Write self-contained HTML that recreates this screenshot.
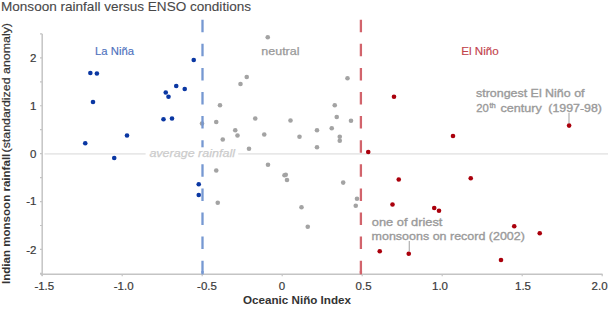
<!DOCTYPE html>
<html><head><meta charset="utf-8"><style>
html,body{margin:0;padding:0;background:#fff;width:610px;height:316px;overflow:hidden}
svg{display:block}
text{font-family:"Liberation Sans",sans-serif}
</style></head><body>
<svg width="610" height="316" viewBox="0 0 610 316">
<line x1="44.5" y1="153.9" x2="608" y2="153.9" stroke="#e8e8e8" stroke-width="1.7"/>
<line x1="42.2" y1="33.8" x2="42.2" y2="276" stroke="#c4c4c4" stroke-width="1.5"/>
<line x1="40.3" y1="274.3" x2="602.5" y2="274.3" stroke="#c4c4c4" stroke-width="1.5"/>
<line x1="40" y1="33.90" x2="42" y2="33.90" stroke="#c4c4c4" stroke-width="1.2"/>
<line x1="40" y1="57.85" x2="42" y2="57.85" stroke="#c4c4c4" stroke-width="1.2"/>
<line x1="40" y1="81.80" x2="42" y2="81.80" stroke="#c4c4c4" stroke-width="1.2"/>
<line x1="40" y1="105.75" x2="42" y2="105.75" stroke="#c4c4c4" stroke-width="1.2"/>
<line x1="40" y1="129.70" x2="42" y2="129.70" stroke="#c4c4c4" stroke-width="1.2"/>
<line x1="40" y1="153.65" x2="42" y2="153.65" stroke="#c4c4c4" stroke-width="1.2"/>
<line x1="40" y1="177.60" x2="42" y2="177.60" stroke="#c4c4c4" stroke-width="1.2"/>
<line x1="40" y1="201.55" x2="42" y2="201.55" stroke="#c4c4c4" stroke-width="1.2"/>
<line x1="40" y1="225.50" x2="42" y2="225.50" stroke="#c4c4c4" stroke-width="1.2"/>
<line x1="40" y1="249.45" x2="42" y2="249.45" stroke="#c4c4c4" stroke-width="1.2"/>
<line x1="40" y1="273.40" x2="42" y2="273.40" stroke="#c4c4c4" stroke-width="1.2"/>
<line x1="42.20" y1="274" x2="42.20" y2="276.2" stroke="#c4c4c4" stroke-width="1.2"/>
<line x1="122.20" y1="274" x2="122.20" y2="276.2" stroke="#c4c4c4" stroke-width="1.2"/>
<line x1="202.20" y1="274" x2="202.20" y2="276.2" stroke="#c4c4c4" stroke-width="1.2"/>
<line x1="282.20" y1="274" x2="282.20" y2="276.2" stroke="#c4c4c4" stroke-width="1.2"/>
<line x1="362.20" y1="274" x2="362.20" y2="276.2" stroke="#c4c4c4" stroke-width="1.2"/>
<line x1="442.20" y1="274" x2="442.20" y2="276.2" stroke="#c4c4c4" stroke-width="1.2"/>
<line x1="522.20" y1="274" x2="522.20" y2="276.2" stroke="#c4c4c4" stroke-width="1.2"/>
<line x1="602.20" y1="274" x2="602.20" y2="276.2" stroke="#c4c4c4" stroke-width="1.2"/>
<line x1="202.5" y1="271" x2="202.5" y2="274.4" stroke="#7698d2" stroke-width="2.3"/>
<line x1="360.9" y1="271" x2="360.9" y2="274.4" stroke="#d2646c" stroke-width="2.3"/>
<line x1="569" y1="112.8" x2="569" y2="123.5" stroke="#b0b0b0" stroke-width="1.2"/>
<line x1="409.3" y1="241" x2="409.3" y2="251.5" stroke="#b0b0b0" stroke-width="1.2"/>
<circle cx="267.75" cy="37.25" r="2.3" fill="#a3a3a3"/>
<circle cx="246.75" cy="77" r="2.3" fill="#a3a3a3"/>
<circle cx="240.5" cy="84" r="2.3" fill="#a3a3a3"/>
<circle cx="220" cy="105.25" r="2.3" fill="#a3a3a3"/>
<circle cx="334.75" cy="105.25" r="2.3" fill="#a3a3a3"/>
<circle cx="202" cy="123.5" r="2.3" fill="#a3a3a3"/>
<circle cx="216.25" cy="122" r="2.3" fill="#a3a3a3"/>
<circle cx="255.25" cy="118.5" r="2.3" fill="#a3a3a3"/>
<circle cx="290.5" cy="120.5" r="2.3" fill="#a3a3a3"/>
<circle cx="336.75" cy="117" r="2.3" fill="#a3a3a3"/>
<circle cx="235.25" cy="130.25" r="2.3" fill="#a3a3a3"/>
<circle cx="237.5" cy="135.5" r="2.3" fill="#a3a3a3"/>
<circle cx="222.75" cy="139.5" r="2.3" fill="#a3a3a3"/>
<circle cx="264.25" cy="134.5" r="2.3" fill="#a3a3a3"/>
<circle cx="299.5" cy="136.75" r="2.3" fill="#a3a3a3"/>
<circle cx="317" cy="130.25" r="2.3" fill="#a3a3a3"/>
<circle cx="331.75" cy="128.25" r="2.3" fill="#a3a3a3"/>
<circle cx="339.75" cy="136.75" r="2.3" fill="#a3a3a3"/>
<circle cx="339.75" cy="140.75" r="2.3" fill="#a3a3a3"/>
<circle cx="249" cy="148.75" r="2.3" fill="#a3a3a3"/>
<circle cx="317" cy="147.25" r="2.3" fill="#a3a3a3"/>
<circle cx="268" cy="164.75" r="2.3" fill="#a3a3a3"/>
<circle cx="216.25" cy="170.5" r="2.3" fill="#a3a3a3"/>
<circle cx="284.5" cy="175.25" r="2.3" fill="#a3a3a3"/>
<circle cx="285.75" cy="174.75" r="2.3" fill="#a3a3a3"/>
<circle cx="287" cy="180" r="2.3" fill="#a3a3a3"/>
<circle cx="343.2" cy="182.6" r="2.3" fill="#a3a3a3"/>
<circle cx="217.75" cy="202.75" r="2.3" fill="#a3a3a3"/>
<circle cx="301.5" cy="207.25" r="2.3" fill="#a3a3a3"/>
<circle cx="307.75" cy="226.75" r="2.3" fill="#a3a3a3"/>
<circle cx="347.5" cy="78.25" r="2.3" fill="#a3a3a3"/>
<circle cx="351" cy="120.75" r="2.3" fill="#a3a3a3"/>
<circle cx="357" cy="198.75" r="2.3" fill="#a3a3a3"/>
<circle cx="355.75" cy="205.75" r="2.3" fill="#a3a3a3"/>
<circle cx="90.35" cy="73" r="2.3" fill="#0a37a3"/>
<circle cx="96.9" cy="73.55" r="2.3" fill="#0a37a3"/>
<circle cx="93" cy="102" r="2.3" fill="#0a37a3"/>
<circle cx="165.75" cy="92.5" r="2.3" fill="#0a37a3"/>
<circle cx="168.5" cy="96.75" r="2.3" fill="#0a37a3"/>
<circle cx="176.25" cy="86" r="2.3" fill="#0a37a3"/>
<circle cx="184.75" cy="89" r="2.3" fill="#0a37a3"/>
<circle cx="85.25" cy="143.25" r="2.3" fill="#0a37a3"/>
<circle cx="114.25" cy="158" r="2.3" fill="#0a37a3"/>
<circle cx="127" cy="135.5" r="2.3" fill="#0a37a3"/>
<circle cx="163.5" cy="119.25" r="2.3" fill="#0a37a3"/>
<circle cx="172" cy="118.5" r="2.3" fill="#0a37a3"/>
<circle cx="193.75" cy="60" r="2.3" fill="#0a37a3"/>
<circle cx="198.75" cy="184.25" r="2.3" fill="#0a37a3"/>
<circle cx="198.75" cy="195" r="2.3" fill="#0a37a3"/>
<circle cx="394" cy="96.75" r="2.3" fill="#aa000c"/>
<circle cx="569.1" cy="125.6" r="2.3" fill="#aa000c"/>
<circle cx="368.25" cy="152" r="2.3" fill="#aa000c"/>
<circle cx="453" cy="136" r="2.3" fill="#aa000c"/>
<circle cx="398.75" cy="179.5" r="2.3" fill="#aa000c"/>
<circle cx="470.75" cy="178.25" r="2.3" fill="#aa000c"/>
<circle cx="392.5" cy="204.5" r="2.3" fill="#aa000c"/>
<circle cx="434.25" cy="208" r="2.3" fill="#aa000c"/>
<circle cx="439" cy="210.75" r="2.3" fill="#aa000c"/>
<circle cx="379.75" cy="251.25" r="2.3" fill="#aa000c"/>
<circle cx="408.75" cy="253.75" r="2.3" fill="#aa000c"/>
<circle cx="514.25" cy="226.25" r="2.3" fill="#aa000c"/>
<circle cx="539.75" cy="233.25" r="2.3" fill="#aa000c"/>
<circle cx="501" cy="260" r="2.3" fill="#aa000c"/>
<line x1="202.5" y1="19.7" x2="202.5" y2="274.4" stroke="#7698d2" stroke-width="2.3" stroke-dasharray="12.5 11.6"/>
<line x1="360.9" y1="19.7" x2="360.9" y2="274.4" stroke="#d2646c" stroke-width="2.3" stroke-dasharray="12.5 11.6"/>
<text x="1" y="10.8" font-size="13.1" fill="#484848" text-anchor="start" font-weight="normal" font-style="normal" textLength="250" lengthAdjust="spacingAndGlyphs" stroke="#484848" stroke-width="0.1">Monsoon rainfall versus ENSO conditions</text>
<text x="95" y="55" font-size="11.5" fill="#4f72bd" text-anchor="start" font-weight="normal" font-style="normal" textLength="39" lengthAdjust="spacingAndGlyphs" stroke="#4f72bd" stroke-width="0.15">La Niña</text>
<text x="261.3" y="55" font-size="11.5" fill="#999999" text-anchor="start" font-weight="normal" font-style="normal" textLength="38.2" lengthAdjust="spacingAndGlyphs" stroke="#999999" stroke-width="0.25">neutral</text>
<text x="461.3" y="55" font-size="11.5" fill="#c2434d" text-anchor="start" font-weight="normal" font-style="normal" textLength="37.5" lengthAdjust="spacingAndGlyphs" stroke="#c2434d" stroke-width="0.15">El Niño</text>
<text x="476" y="96.75" font-size="11.5" fill="#9a9a9a" text-anchor="start" font-weight="normal" font-style="normal" textLength="108.5" lengthAdjust="spacingAndGlyphs" stroke="#9a9a9a" stroke-width="0.35">strongest El Niño of</text>
<text x="476.3" y="111.8" font-size="11.5" fill="#9a9a9a" text-anchor="start" font-weight="normal" font-style="normal" textLength="12.6" lengthAdjust="spacingAndGlyphs" stroke="#9a9a9a" stroke-width="0.35">20</text>
<text x="489.5" y="107.7" font-size="7.6" fill="#9a9a9a" text-anchor="start" font-weight="normal" font-style="normal" textLength="6.3" lengthAdjust="spacingAndGlyphs" stroke="#9a9a9a" stroke-width="0.35">th</text>
<text x="500.4" y="111.8" font-size="11.5" fill="#9a9a9a" text-anchor="start" font-weight="normal" font-style="normal" textLength="41.3" lengthAdjust="spacingAndGlyphs" stroke="#9a9a9a" stroke-width="0.35">century</text>
<text x="548.3" y="111.8" font-size="11.5" fill="#9a9a9a" text-anchor="start" font-weight="normal" font-style="normal" textLength="53.7" lengthAdjust="spacingAndGlyphs" stroke="#9a9a9a" stroke-width="0.35">(1997-98)</text>
<text x="371.8" y="225.8" font-size="11.5" fill="#9a9a9a" text-anchor="start" font-weight="normal" font-style="normal" textLength="70.6" lengthAdjust="spacingAndGlyphs" stroke="#9a9a9a" stroke-width="0.35">one of driest</text>
<text x="371.6" y="239.9" font-size="11.5" fill="#9a9a9a" text-anchor="start" font-weight="normal" font-style="normal" textLength="153.3" lengthAdjust="spacingAndGlyphs" stroke="#9a9a9a" stroke-width="0.35">monsoons on record (2002)</text>
<rect x="145.6" y="147.3" width="92.6" height="12.5" fill="#ffffff"/>
<text x="149.4" y="157.1" font-size="11.5" fill="#cccccc" text-anchor="start" font-weight="normal" font-style="italic" textLength="85.6" lengthAdjust="spacingAndGlyphs" stroke="#cccccc" stroke-width="0.25">average rainfall</text>
<text x="44.3" y="289.6" font-size="11.5" fill="#3a3a3a" text-anchor="middle" font-weight="normal" font-style="normal" stroke="#3a3a3a" stroke-width="0.2">-1.5</text>
<text x="123.7" y="289.6" font-size="11.5" fill="#3a3a3a" text-anchor="middle" font-weight="normal" font-style="normal" stroke="#3a3a3a" stroke-width="0.2">-1.0</text>
<text x="207" y="289.6" font-size="11.5" fill="#3a3a3a" text-anchor="middle" font-weight="normal" font-style="normal" stroke="#3a3a3a" stroke-width="0.2">-0.5</text>
<text x="282" y="289.6" font-size="11.5" fill="#3a3a3a" text-anchor="middle" font-weight="normal" font-style="normal" stroke="#3a3a3a" stroke-width="0.2">0</text>
<text x="363.6" y="289.6" font-size="11.5" fill="#3a3a3a" text-anchor="middle" font-weight="normal" font-style="normal" stroke="#3a3a3a" stroke-width="0.2">0.5</text>
<text x="440" y="289.6" font-size="11.5" fill="#3a3a3a" text-anchor="middle" font-weight="normal" font-style="normal" stroke="#3a3a3a" stroke-width="0.2">1.0</text>
<text x="523" y="289.6" font-size="11.5" fill="#3a3a3a" text-anchor="middle" font-weight="normal" font-style="normal" stroke="#3a3a3a" stroke-width="0.2">1.5</text>
<text x="599.6" y="289.6" font-size="11.5" fill="#3a3a3a" text-anchor="middle" font-weight="normal" font-style="normal" stroke="#3a3a3a" stroke-width="0.2">2.0</text>
<text x="36.4" y="61.800000000000004" font-size="11.5" fill="#3a3a3a" text-anchor="end" font-weight="normal" font-style="normal" stroke="#3a3a3a" stroke-width="0.2">2</text>
<text x="36.4" y="109.7" font-size="11.5" fill="#3a3a3a" text-anchor="end" font-weight="normal" font-style="normal" stroke="#3a3a3a" stroke-width="0.2">1</text>
<text x="36.4" y="157.7" font-size="11.5" fill="#3a3a3a" text-anchor="end" font-weight="normal" font-style="normal" stroke="#3a3a3a" stroke-width="0.2">0</text>
<text x="36.4" y="205.39999999999998" font-size="11.5" fill="#3a3a3a" text-anchor="end" font-weight="normal" font-style="normal" stroke="#3a3a3a" stroke-width="0.2">-1</text>
<text x="36.4" y="253.5" font-size="11.5" fill="#3a3a3a" text-anchor="end" font-weight="normal" font-style="normal" stroke="#3a3a3a" stroke-width="0.2">-2</text>
<text x="243" y="304.25" font-size="11.5" fill="#333333" text-anchor="start" font-weight="bold" font-style="normal" textLength="108" lengthAdjust="spacingAndGlyphs">Oceanic Niño Index</text>
<text transform="translate(10.1,284) rotate(-90)" font-size="11.5" fill="#333333" font-weight="bold" textLength="130.3" lengthAdjust="spacingAndGlyphs">Indian monsoon rainfall</text>
<text transform="translate(10.1,152.5) rotate(-90)" font-size="11.5" fill="#333333" stroke="#333333" stroke-width="0.2" textLength="129.5" lengthAdjust="spacingAndGlyphs">(standardized anomaly)</text>
</svg>
</body></html>
